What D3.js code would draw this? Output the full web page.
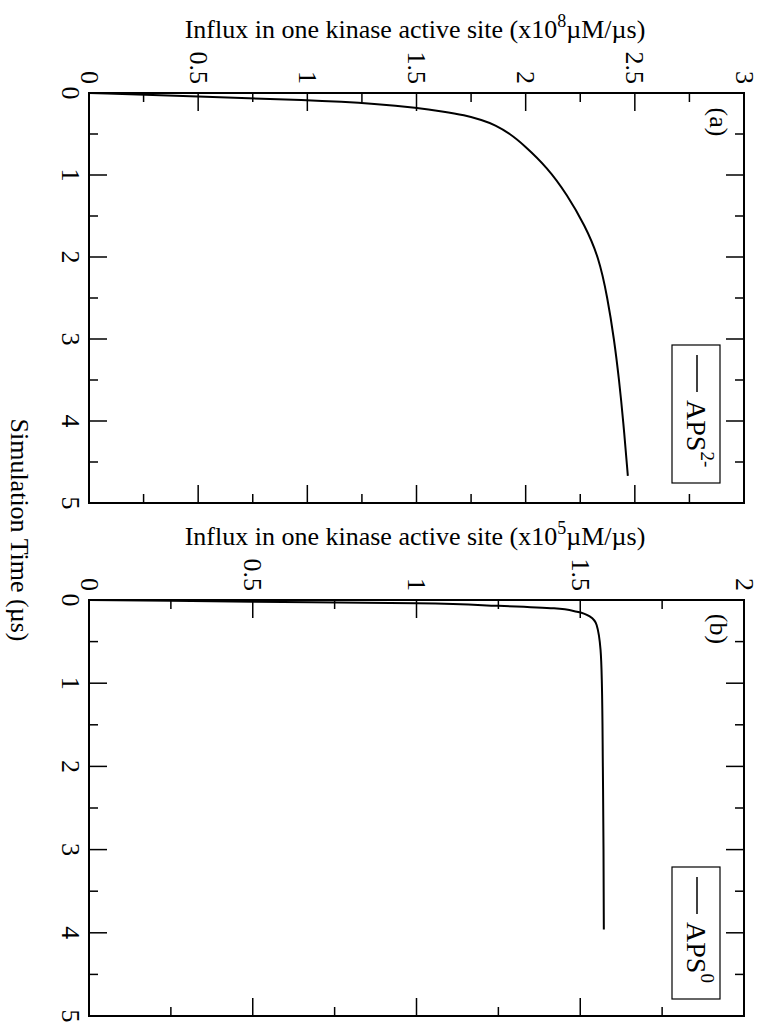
<!DOCTYPE html>
<html><head><meta charset="utf-8">
<script src="https://cdn.jsdelivr.net/npm/d3@7"></script>
<style>body{margin:0;background:#fff}svg{display:block}text{font-family:"Liberation Serif","Times New Roman",serif;fill:#000}</style>
</head><body><svg id="c" width="759" height="1029"></svg>
<script>
// Panel (a): APS2- ; time (µs) vs influx (x10^8 µM/µs)
const timeA = [0, 0.045, 0.085, 0.134, 0.18, 0.225, 0.27, 0.33, 0.39, 0.5, 0.63, 0.91, 1.24, 1.61, 2.0, 2.5, 3.0, 3.5, 4.0, 4.67];
const fluxA = [0, 0.5, 1.0, 1.335, 1.5, 1.62, 1.72, 1.80, 1.86, 1.93, 1.99, 2.10, 2.19, 2.27, 2.335, 2.375, 2.405, 2.428, 2.447, 2.468];
// Panel (b): APS0 ; influx (x10^5 µM/µs)
const timeB = [0, 0.02, 0.04, 0.07, 0.10, 0.14, 0.2, 0.3, 0.6, 1.0, 2.0, 3.0, 3.96];
const fluxB = [0, 0.5, 1.0, 1.25, 1.42, 1.49, 1.53, 1.55, 1.562, 1.566, 1.569, 1.571, 1.572];
const timeTicks = [0, 1, 2, 3, 4, 5];
const fluxTicksA = [0, 0.5, 1, 1.5, 2, 2.5, 3];
const fluxTicksB = [0, 0.5, 1, 1.5, 2];
const labelA = "(a)", labelB = "(b)";
const legendA = {base: "APS", sup: "2-"};
const legendB = {base: "APS", sup: "0"};
const titleA = {pre: "Influx in one kinase active site (x10", sup: "8", post: "µM/µs)"};
const titleB = {pre: "Influx in one kinase active site (x10", sup: "5", post: "µM/µs)"};
const timeTitle = "Simulation Time (µs)";

const svg = d3.select("#c");
const L = 89, R = 744;

function panel(top, bottom, fmax, fticks, times, fluxes, lbl, leg, title, legBox, curve) {
  const g = svg.append("g");
  const x = d3.scaleLinear().domain([0, fmax]).range([L, R]);
  const y = d3.scaleLinear().domain([0, 5]).range([top, bottom]);
  const fMinor = d3.range(0, fmax + 1e-9, 0.25);
  const tMinor = d3.range(0, 5.0001, 0.5);
  fMinor.forEach(v => {
    const major = Math.abs(v * 2 - Math.round(v * 2)) < 1e-6;
    const len = major ? 18 : 9;
    if (v === 0 || Math.abs(v - fmax) < 1e-6) return;
    g.append("line").attr("x1", x(v)).attr("x2", x(v)).attr("y1", top).attr("y2", top + len).attr("stroke", "#000").attr("stroke-width", 1.5);
    g.append("line").attr("x1", x(v)).attr("x2", x(v)).attr("y1", bottom).attr("y2", bottom - len).attr("stroke", "#000").attr("stroke-width", 1.5);
  });
  tMinor.forEach(v => {
    const major = Math.abs(v - Math.round(v)) < 1e-6;
    const len = major ? 18 : 9;
    if (v === 0 || v === 5) return;
    g.append("line").attr("y1", y(v)).attr("y2", y(v)).attr("x1", L).attr("x2", L + len).attr("stroke", "#000").attr("stroke-width", 1.5);
    g.append("line").attr("y1", y(v)).attr("y2", y(v)).attr("x1", R).attr("x2", R - len).attr("stroke", "#000").attr("stroke-width", 1.5);
  });
  g.append("rect").attr("x", L).attr("y", top).attr("width", R - L).attr("height", bottom - top)
    .attr("fill", "none").attr("stroke", "#000").attr("stroke-width", 2);
  fticks.forEach(v => {
    g.append("text").attr("transform", `translate(${x(v)},${top - 9}) rotate(90)`)
      .attr("text-anchor", "end").attr("dominant-baseline", "central")
      .attr("font-size", 26).text(v);
  });
  timeTicks.forEach(v => {
    g.append("text").attr("transform", `translate(${L - 19},${y(v)}) rotate(90)`)
      .attr("text-anchor", "middle").attr("dominant-baseline", "central")
      .attr("font-size", 26).text(v);
  });
  const t = g.append("text").attr("x", 415).attr("y", top - 55).attr("text-anchor", "middle").attr("font-size", 26);
  t.append("tspan").text(title.pre);
  t.append("tspan").attr("dy", -11).attr("font-size", 18).text(title.sup);
  t.append("tspan").attr("dy", 11).text(title.post);
  const line = d3.line().x((d, i) => x(fluxes[i])).y(d => y(d)).curve(curve);
  g.append("path").datum(times).attr("d", line).attr("fill", "none").attr("stroke", "#000").attr("stroke-width", 2);
  g.append("text").attr("transform", `translate(718,${top + 29}) rotate(90)`)
    .attr("text-anchor", "middle").attr("dominant-baseline", "central").attr("font-size", 26).text(lbl);
  g.append("rect").attr("x", 672).attr("y", legBox[0]).attr("width", 48).attr("height", legBox[1] - legBox[0])
    .attr("fill", "#fff").attr("stroke", "#000").attr("stroke-width", 1.2);
  g.append("line").attr("x1", 697).attr("x2", 697).attr("y1", legBox[0] + 10).attr("y2", legBox[0] + 47)
    .attr("stroke", "#000").attr("stroke-width", 1.5);
  const lt = g.append("text").attr("transform", `translate(697,${legBox[0] + 55}) rotate(90)`)
    .attr("dominant-baseline", "central").attr("font-size", 28);
  lt.append("tspan").text(leg.base);
  lt.append("tspan").attr("dy", -11).attr("font-size", 19).text(leg.sup);
}

panel(93, 503, 3, fluxTicksA, timeA, fluxA, labelA, legendA, titleA, [345, 483], d3.curveBasis);
panel(600, 1016, 2, fluxTicksB, timeB, fluxB, labelB, legendB, titleB, [867, 999], d3.curveMonotoneY);

svg.append("text").attr("transform", "translate(19,530) rotate(90)")
  .attr("text-anchor", "middle").attr("dominant-baseline", "central").attr("font-size", 26).text(timeTitle);
</script></body></html>
